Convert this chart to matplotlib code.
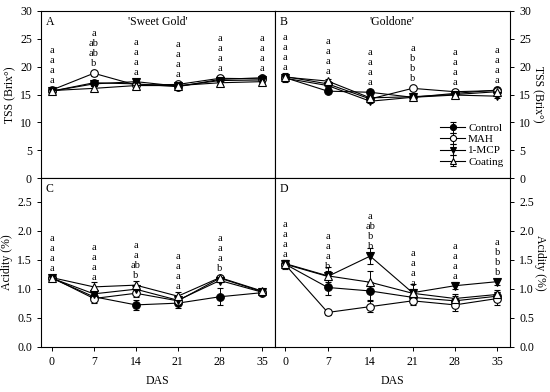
import matplotlib
matplotlib.use("Agg")
import matplotlib.pyplot as plt
import numpy as np

plt.rcParams['font.family'] = ['Liberation Serif', 'DejaVu Serif']
plt.rcParams['mathtext.fontset'] = 'stix'

days = [0, 7, 14, 21, 28, 35]
treatments = ['Control', 'MAH', '1-MCP', 'Coating']

# Panel A: TSS 'Sweet Gold'
tss_sg = {
    'Control': [15.6, 17.1, 16.9, 16.4, 17.7, 18.0],
    'MAH':     [15.8, 18.8, 16.7, 16.8, 17.9, 17.8],
    '1-MCP':   [15.6, 16.9, 17.3, 16.5, 17.5, 17.6],
    'Coating': [15.7, 16.1, 16.6, 16.6, 17.1, 17.3],
}
tss_sg_err = {
    'Control': [0.3, 0.4, 0.3, 0.3, 0.3, 0.3],
    'MAH':     [0.3, 0.4, 0.3, 0.3, 0.3, 0.3],
    '1-MCP':   [0.3, 0.4, 0.3, 0.3, 0.3, 0.3],
    'Coating': [0.3, 0.4, 0.3, 0.3, 0.3, 0.3],
}
# Panel B: TSS 'Goldone'
tss_gd = {
    'Control': [18.0, 15.6, 15.4, 14.5, 15.2, 15.8],
    'MAH':     [18.2, 16.9, 14.2, 16.1, 15.5, 15.7],
    '1-MCP':   [17.9, 16.6, 13.8, 14.5, 14.9, 14.7],
    'Coating': [18.1, 17.4, 14.4, 14.6, 15.0, 15.5],
}
tss_gd_err = {
    'Control': [0.8, 0.4, 0.4, 0.4, 0.3, 0.3],
    'MAH':     [0.5, 0.4, 0.4, 0.3, 0.3, 0.3],
    '1-MCP':   [0.5, 0.4, 0.4, 0.3, 0.3, 0.3],
    'Coating': [0.5, 0.4, 0.4, 0.3, 0.3, 0.3],
}
# Panel C: Acidity 'Sweet Gold'
ac_sg = {
    'Control': [1.18, 0.86, 0.72, 0.75, 0.86, 0.93],
    'MAH':     [1.19, 0.83, 0.92, 0.79, 1.18, 0.95],
    '1-MCP':   [1.18, 0.91, 0.99, 0.80, 1.14, 0.94],
    'Coating': [1.19, 1.03, 1.06, 0.87, 1.19, 0.96],
}
ac_sg_err = {
    'Control': [0.03, 0.05, 0.08, 0.08, 0.15, 0.03],
    'MAH':     [0.03, 0.07, 0.07, 0.05, 0.03, 0.03],
    '1-MCP':   [0.03, 0.05, 0.05, 0.05, 0.03, 0.03],
    'Coating': [0.03, 0.08, 0.08, 0.08, 0.03, 0.03],
}
# Panel D: Acidity 'Goldone'
ac_gd = {
    'Control': [1.42, 1.02, 0.96, 0.85, 0.79, 0.87],
    'MAH':     [1.41, 0.59, 0.69, 0.79, 0.72, 0.83],
    '1-MCP':   [1.42, 1.21, 1.56, 0.93, 1.05, 1.12],
    'Coating': [1.43, 1.22, 1.11, 0.92, 0.83, 0.90],
}
ac_gd_err = {
    'Control': [0.08, 0.13, 0.15, 0.08, 0.08, 0.08],
    'MAH':     [0.05, 0.04, 0.10, 0.08, 0.10, 0.12],
    '1-MCP':   [0.06, 0.10, 0.14, 0.15, 0.06, 0.05],
    'Coating': [0.06, 0.15, 0.19, 0.08, 0.08, 0.08],
}

letters_A = [['a','a','a','a'], ['a','ab','ab','b'], ['a','a','a','a'],
             ['a','a','a','a'], ['a','a','a','a'], ['a','a','a','a']]
letters_B = [['a','a','a','a'], ['a','a','a','a'], ['a','a','a','a'],
             ['a','b','b','b'], ['a','a','a','a'], ['a','a','a','a']]
letters_C = [['a','a','a','a'], ['a','a','a','a'], ['a','a','ab','b'],
             ['a','a','a','a'], ['a','a','a','b'], []]
letters_D = [['a','a','a','a'], ['a','a','a','b'], ['a','ab','b','b'],
             ['a','a','a','a'], ['a','a','a','a'], ['a','b','b','b']]

styles = {
    'Control': dict(marker='o', mfc='black'),
    'MAH':     dict(marker='o', mfc='white'),
    '1-MCP':   dict(marker='v', mfc='black'),
    'Coating': dict(marker='^', mfc='white'),
}

W, H = 550, 392
fig = plt.figure(figsize=(5.5, 3.92), dpi=100)

def fr(x0, y0, x1, y1):
    return [x0 / W, 1 - y1 / H, (x1 - x0) / W, (y1 - y0) / H]

axA = fig.add_axes(fr(41, 10.7, 274.5, 178.3))
axB = fig.add_axes(fr(274.5, 10.7, 510, 178.3))
axC = fig.add_axes(fr(41, 178.3, 274.5, 346.7))
axD = fig.add_axes(fr(274.5, 178.3, 510, 346.7))

panels = [
    (axA, tss_sg, tss_sg_err, letters_A, 'A', "'Sweet Gold'"),
    (axB, tss_gd, tss_gd_err, letters_B, 'B', "'Goldone'"),
    (axC, ac_sg, ac_sg_err, letters_C, 'C', None),
    (axD, ac_gd, ac_gd_err, letters_D, 'D', None),
]

for ax, data, err, letters, tag, title in panels:
    for t in treatments:
        st = styles[t]
        ax.errorbar(days, data[t], yerr=err[t], color='black', lw=0.8,
                    marker=st['marker'], mfc=st['mfc'], mec='black',
                    mew=0.8, ms=5.5, capsize=2.0, elinewidth=0.7,
                    capthick=0.7, label=t, zorder=3)
    ax.set_xlim(-1.8, 37.1)
    ax.set_xticks(days)
    ax.tick_params(direction='out', length=3, width=0.7, labelsize=8.5)
    for s in ax.spines.values():
        s.set_linewidth(0.8)
    ax.text(0.02, 0.97, tag, transform=ax.transAxes, ha='left', va='top',
            fontsize=8.5)
    if title:
        ax.text(0.5, 0.97, title, transform=ax.transAxes, ha='center',
                va='top', fontsize=8.5)
    # significance letters
    for i, d in enumerate(days):
        top = max(data[t][i] for t in treatments)
        col = letters[i]
        n = len(col)
        for k, lab in enumerate(col):
            off = 7 + (n - 1 - k) * 10
            ax.annotate(lab, (d, top), xytext=(0, off * 0.72),
                        textcoords='offset points', ha='center',
                        va='baseline', fontsize=7.5)

for ax in (axA, axB):
    ax.set_ylim(0, 30)
    ax.set_yticks(range(0, 31, 5))
    ax.tick_params(axis='x', bottom=False, labelbottom=False)
for ax in (axC, axD):
    ax.set_ylim(0, 2.9)
    ax.set_yticks(np.arange(0, 2.51, 0.5))
    ax.set_yticklabels([f"{v:.1f}" for v in np.arange(0, 2.51, 0.5)])
    ax.set_xlabel('DAS', fontsize=8.5, labelpad=5)

for ax in (axB, axD):
    ax.yaxis.tick_right()
    ax.yaxis.set_label_position('right')

axA.set_ylabel('TSS (Brix°)', fontsize=8.5, labelpad=3)
axB.set_ylabel('TSS (Brix°)', fontsize=8.5, rotation=270, labelpad=9)
axC.set_ylabel('Acidity (%)', fontsize=8.5, labelpad=3)
axD.set_ylabel('Acidity (%)', fontsize=8.5, rotation=270, labelpad=9)

axB.legend(loc='lower right', bbox_to_anchor=(1.0, 0.03), frameon=False,
           fontsize=8, handlelength=2.2, handletextpad=0.3,
           labelspacing=0.12, borderaxespad=0.2, markerscale=0.8)

fig.savefig('out.png', dpi=100)
